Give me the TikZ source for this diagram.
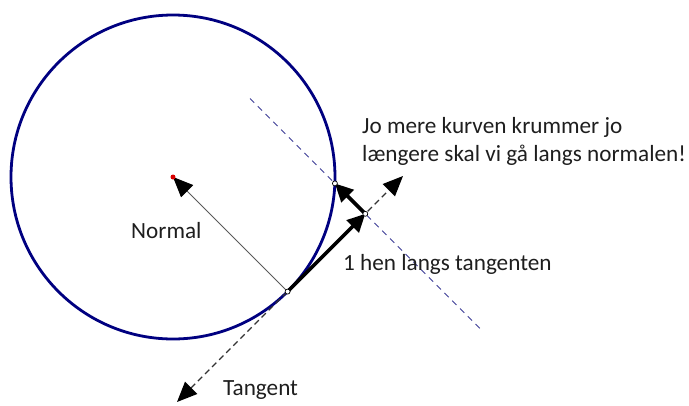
\documentclass[tikz,border=0pt]{standalone}
\usepackage{fontspec}
\setmainfont{Carlito}
\usetikzlibrary{arrows.meta}
\definecolor{navy}{RGB}{0,0,128}
\definecolor{bluedash}{RGB}{60,60,150}
\definecolor{txt}{RGB}{30,30,30}
\begin{document}
\begin{tikzpicture}[x=1pt,y=-1pt,
  lbl/.style={font=\fontsize{23.2}{28}\selectfont, text=txt, inner sep=0pt, anchor=base west},
  bighead/.tip={Triangle[length=20pt,width=17pt,color=black]},
  thickarrow/.style={line width=3.6pt, -{Triangle[length=18pt,width=17pt,color=black]}},
  tangentline/.style={dash pattern=on 6pt off 4pt, line width=1.4pt, draw=black!80, bighead-bighead},
  normalline/.style={draw=black!65, line width=1pt, -bighead},
  bluedashed/.style={draw=bluedash, dash pattern=on 6pt off 5pt, line width=1pt},
  pointdot/.style={circle, draw=black, fill=white, inner sep=0pt, minimum size=5pt, line width=0.7pt},
  centerdot/.style={circle, fill=red!85!black, inner sep=0pt, minimum size=5pt}]
\useasboundingbox (0,0) rectangle (689,405);
% key points
\coordinate (C) at (173,177);
\coordinate (P) at (287.6,291.6);
\coordinate (T) at (365.3,213.8);
\coordinate (Q) at (334.9,183.4);
\coordinate (tanA) at (177,402);
\coordinate (tanB) at (403,176);
\coordinate (norA) at (250,98.5);
\coordinate (norB) at (480,328.5);
% circle
\draw[navy, line width=2.8pt] (C) circle (162pt);
% normal line through T
\draw[bluedashed] (norA) -- (norB);
% tangent line
\draw[tangentline] (tanA) -- (tanB);
% normal vector
\draw[normalline] (P) -- (C);
% thick arrows
\draw[thickarrow] (P) -- (T);
\draw[thickarrow] (T) -- (Q);
% dots
\node[centerdot] (Cd) at (C) {};
\node[pointdot] (Pd) at (P) {};
\node[pointdot] (Td) at (T) {};
\node[pointdot] (Qd) at (Q) {};
% labels
\node[lbl] (jo1) at (362,133) {Jo mere kurven krummer jo};
\node[lbl] (jo2) at (362,161) {længere skal vi gå langs normalen!};
\node[lbl] (hen) at (343,270) {1 hen langs tangenten};
\node[lbl] (normal) at (131,238) {Normal};
\node[lbl] (tangent) at (223,395) {Tangent};
\end{tikzpicture}
\end{document}
